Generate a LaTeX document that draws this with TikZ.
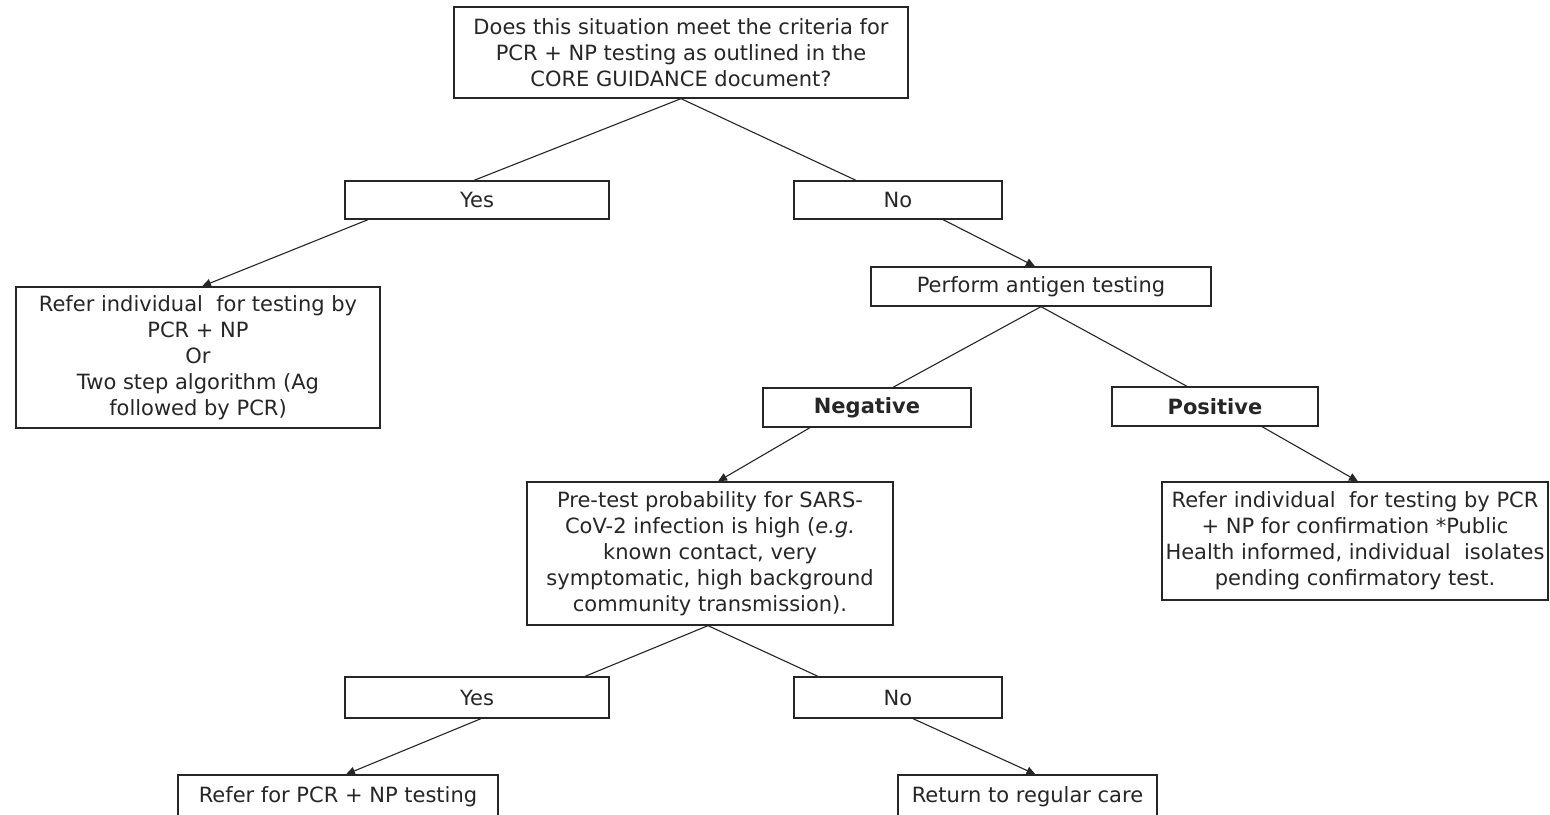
\documentclass[tikz,border=0pt]{standalone}
\usepackage{fontspec}
\setmainfont{DejaVu Sans}
\usetikzlibrary{arrows.meta}
\begin{document}
\begin{tikzpicture}[x=1pt,y=-1pt,
  box/.style={draw=black!85, line width=1.3pt, inner sep=0pt, align=center,
    text=black!85, font=\fontsize{21}{26}\selectfont},
  link/.style={draw=black!85, line width=1.1pt},
  arr/.style={link, -{Triangle[length=9pt,width=8pt]}}]
\clip (0,0) rectangle (1550,814);
\fill[white] (0,0) rectangle (1550,814);
% nodes
\node[box, minimum width=454pt, minimum height=91pt] (q1) at (681,52.5)
  {Does this situation meet the criteria for\\PCR + NP testing as outlined in the\\CORE GUIDANCE document?};
\node[box, minimum width=264pt, minimum height=38pt] (yes1) at (477,200) {Yes};
\node[box, minimum width=208pt, minimum height=38pt] (no1) at (898,200) {No};
\node[box, minimum width=364pt, minimum height=141pt] (ref1) at (198,357.5)
  {Refer individual~ for testing by\\PCR + NP\\Or\\Two step algorithm (Ag\\followed by PCR)};
\node[box, minimum width=340pt, minimum height=39pt] (ant) at (1041,286.5) {Perform antigen testing};
\node[box, minimum width=208pt, minimum height=39pt] (neg) at (867,407.5) {\bfseries Negative};
\node[box, minimum width=206pt, minimum height=39pt] (pos) at (1215,406.5) {\bfseries Positive};
\node[box, minimum width=366pt, minimum height=143pt] (pre) at (710,553.5)
  {Pre-test probability for SARS-\\CoV-2 infection is high (\textit{e.g.}\\known contact, very\\symptomatic, high background\\community transmission).};
\node[box, minimum width=386pt, minimum height=118pt] (posref) at (1355,541)
  {Refer individual~ for testing by PCR\\+ NP for confirmation *Public\\Health informed, individual~ isolates\\pending confirmatory test.};
\node[box, minimum width=264pt, minimum height=41pt] (yes2) at (477,697.5) {Yes};
\node[box, minimum width=208pt, minimum height=41pt] (no2) at (898,697.5) {No};
\node[box, minimum width=320pt, minimum height=43pt] (refpcr) at (338,796.5) {Refer for PCR + NP testing};
\node[box, minimum width=259pt, minimum height=43pt] (ret) at (1027.5,796.5) {Return to regular care};
% connectors
\draw[link] (q1.south) -- ([xshift=-3pt]yes1.north);
\draw[link] (q1.south) -- ([xshift=-42pt]no1.north);
\draw[arr] ([xshift=-109pt]yes1.south) -- ([xshift=4pt]ref1.north);
\draw[arr] ([xshift=45pt]no1.south) -- ([xshift=-6pt]ant.north);
\draw[link] (ant.south) -- ([xshift=26pt]neg.north);
\draw[link] (ant.south) -- ([xshift=-28pt]pos.north);
\draw[arr] ([xshift=-57pt]neg.south) -- ([xshift=8pt]pre.north);
\draw[arr] ([xshift=47pt]pos.south) -- ([xshift=3pt]posref.north);
\draw[link] ([xshift=-2pt]pre.south) -- ([xshift=108pt]yes2.north);
\draw[link] ([xshift=-2pt]pre.south) -- ([xshift=-80pt]no2.north);
\draw[arr] ([xshift=4pt]yes2.south) -- ([xshift=8pt]refpcr.north);
\draw[arr] ([xshift=15pt]no2.south) -- ([xshift=8pt]ret.north);
\end{tikzpicture}
\end{document}
